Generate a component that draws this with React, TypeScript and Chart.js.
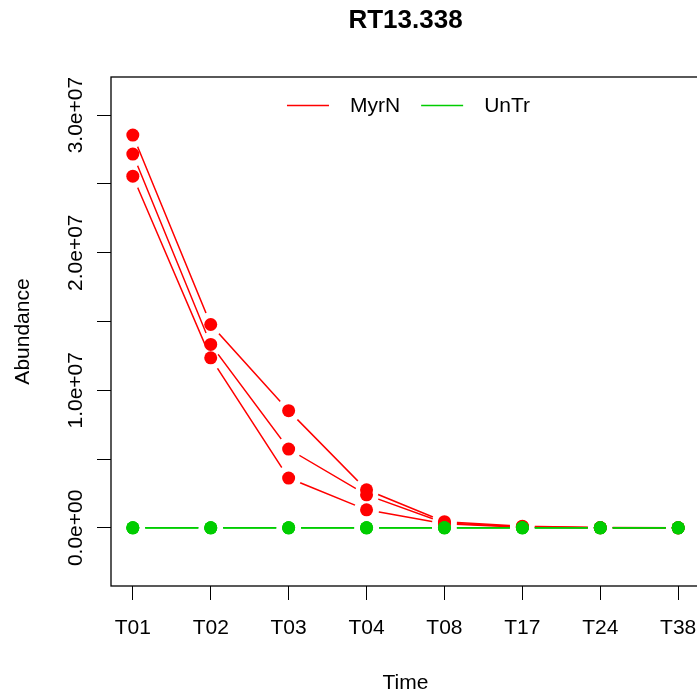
import React, { useEffect, useRef } from 'react';
import { Chart, registerables } from 'chart.js';

Chart.register(...registerables);

// ---- Data ----
const timePoints = ['T01', 'T02', 'T03', 'T04', 'T08', 'T17', 'T24', 'T38'];
const timeIndex = [1, 2, 3, 4, 5, 6, 7, 8];

const myrN1 = [2.855e7, 1.478e7, 0.852e7, 0.277e7, 0.045e7, 0.012e7, 0.002e7, 0];
const myrN2 = [2.717e7, 1.333e7, 0.573e7, 0.24e7, 0.035e7, 0.008e7, 0.001e7, 0];
const myrN3 = [2.556e7, 1.236e7, 0.362e7, 0.131e7, 0.03e7, 0.005e7, 0.0005e7, 0];

const untr1 = [0, 0, 0, 0, 0, 0, 0, 0];
const untr2 = [0, 0, 0, 0, 0, 0, 0, 0];
const untr3 = [0, 0, 0, 0, 0, 0, 0, 0];

const yTickValues = [0, 5e6, 1e7, 1.5e7, 2e7, 2.5e7, 3e7];
const yLabelValues = [0, 1e7, 2e7, 3e7];
const yTickLabels = ['0.0e+00', '1.0e+07', '2.0e+07', '3.0e+07'];

const legendLabels = ['MyrN', 'UnTr'];
const chartTitle = 'RT13.338';
const xTitle = 'Time';
const yTitle = 'Abundance';

const RED = '#FF0000';
const GREEN = '#00CD00';
const FONT = '"Liberation Sans", Arial, Helvetica, sans-serif';

const toXY = (vals: number[]) => vals.map((v, i) => ({ x: timeIndex[i], y: v }));

const lineDs = (vals: number[], color: string, order: number) => ({
  data: toXY(vals),
  borderColor: color,
  backgroundColor: color,
  borderWidth: 1.5,
  pointRadius: 0,
  showLine: true,
  fill: false,
  tension: 0,
  order,
  gapRadius: 12.5,
});

const pointDs = (vals: number[], color: string, order: number) => ({
  data: toXY(vals),
  borderColor: color,
  backgroundColor: color,
  showLine: false,
  pointRadius: 6.5,
  pointBackgroundColor: color,
  pointBorderWidth: 0,
  order,
});

const gapPlugin = {
  id: 'gapPlugin',
  beforeDatasetDraw(chart: any, args: any) {
    const ds = chart.data.datasets[args.index];
    if (!ds.gapRadius) return;
    const ctx = chart.ctx;
    ctx.save();
    ctx.beginPath();
    ctx.rect(0, 0, chart.width, chart.height);
    for (const el of args.meta.data) {
      ctx.moveTo(el.x + ds.gapRadius, el.y);
      ctx.arc(el.x, el.y, ds.gapRadius, 0, Math.PI * 2, true);
    }
    ctx.clip('evenodd');
  },
  afterDatasetDraw(chart: any, args: any) {
    const ds = chart.data.datasets[args.index];
    if (!ds.gapRadius) return;
    chart.ctx.restore();
  },
};

const decorPlugin = {
  id: 'decorPlugin',
  afterDraw(chart: any) {
    const { ctx, chartArea } = chart;
    const ys = chart.scales.y;
    // box
    ctx.save();
    ctx.strokeStyle = '#000';
    ctx.lineWidth = 1.3;
    ctx.strokeRect(chartArea.left, chartArea.top, chartArea.right - chartArea.left, chartArea.bottom - chartArea.top);
    ctx.restore();

    // rotated y tick labels
    ctx.save();
    ctx.font = `21px ${FONT}`;
    ctx.fillStyle = '#000';
    ctx.textAlign = 'center';
    ctx.textBaseline = 'alphabetic';
    yLabelValues.forEach((v, i) => {
      const py = ys.getPixelForValue(v);
      ctx.save();
      ctx.translate(chartArea.left - 29.5, py);
      ctx.rotate(-Math.PI / 2);
      ctx.fillText(yTickLabels[i], 0, 0);
      ctx.restore();
    });
    ctx.restore();

    // legend (top, inside plot)
    ctx.save();
    ctx.font = `21px ${FONT}`;
    ctx.textBaseline = 'middle';
    ctx.textAlign = 'left';
    const colors = [RED, GREEN];
    const lineLen = 42;
    const gap = 21;
    const widths = legendLabels.map((l) => ctx.measureText(l).width);
    let total = 0;
    widths.forEach((w, i) => {
      total += lineLen + gap + w + (i < widths.length - 1 ? gap : 0);
    });
    const cx = (chartArea.left + chartArea.right) / 2;
    let x = cx - total / 2 + 3;
    const ly = chartArea.top + 28.5;
    legendLabels.forEach((l, i) => {
      ctx.strokeStyle = colors[i];
      ctx.lineWidth = 1.5;
      ctx.beginPath();
      ctx.moveTo(x, ly);
      ctx.lineTo(x + lineLen, ly);
      ctx.stroke();
      x += lineLen + gap;
      ctx.fillStyle = '#000';
      ctx.fillText(l, x, ly + 1);
      x += widths[i] + gap;
    });
    ctx.restore();
  },
};

export default function App() {
  const canvasRef = useRef<HTMLCanvasElement | null>(null);

  useEffect(() => {
    if (!canvasRef.current) return;
    const chart = new Chart(canvasRef.current, {
      type: 'line',
      data: {
        datasets: [
          pointDs(untr1, GREEN, 0),
          pointDs(untr2, GREEN, 0),
          pointDs(untr3, GREEN, 0),
          pointDs(myrN1, RED, 1),
          pointDs(myrN2, RED, 1),
          pointDs(myrN3, RED, 1),
          lineDs(untr1, GREEN, 2),
          lineDs(untr2, GREEN, 2),
          lineDs(untr3, GREEN, 2),
          lineDs(myrN1, RED, 3),
          lineDs(myrN2, RED, 3),
          lineDs(myrN3, RED, 3),
        ] as any,
      },
      options: {
        responsive: false,
        animation: false,
        devicePixelRatio: 1,
        events: [],
        layout: { padding: { left: 0, right: 20, top: 0, bottom: 0 } },
        plugins: {
          legend: { display: false },
          tooltip: { enabled: false },
          title: {
            display: true,
            text: chartTitle,
            fullSize: false,
            color: '#000',
            font: { family: FONT, size: 26, weight: 'bold', lineHeight: 1 },
            padding: { top: 8, bottom: 43 },
          },
        },
        scales: {
          x: {
            type: 'linear',
            min: 0.72,
            max: 8.28,
            afterBuildTicks: (s: any) => {
              s.ticks = timeIndex.map((v) => ({ value: v }));
            },
            afterFit: (s: any) => {
              s.height = 108;
            },
            grid: { drawOnChartArea: false, drawTicks: true, tickLength: 14, color: '#000', lineWidth: 1 },
            border: { display: false },
            ticks: {
              padding: 16,
              color: '#000',
              autoSkip: false,
              maxRotation: 0,
              minRotation: 0,
              font: { family: FONT, size: 21 },
              callback: (v: any) => timePoints[Math.round(Number(v)) - 1] ?? '',
            },
            title: {
              display: true,
              text: xTitle,
              color: '#000',
              font: { family: FONT, size: 21, lineHeight: 1 },
              padding: { top: 0, bottom: 0 },
            },
          },
          y: {
            type: 'linear',
            min: -4.225e6,
            max: 3.277e7,
            afterBuildTicks: (s: any) => {
              s.ticks = yTickValues.map((v) => ({ value: v }));
            },
            afterFit: (s: any) => {
              s.width = 111;
            },
            grid: { drawOnChartArea: false, drawTicks: true, tickLength: 14, color: '#000', lineWidth: 1 },
            border: { display: false },
            ticks: { display: false },
            title: {
              display: true,
              text: yTitle,
              color: '#000',
              font: { family: FONT, size: 21, lineHeight: 1 },
              padding: { top: 12.5, bottom: 0 },
            },
          },
        },
      } as any,
      plugins: [gapPlugin, decorPlugin],
    });
    return () => chart.destroy();
  }, []);

  return (
    <div
      style={{
        position: 'absolute',
        left: 0,
        top: 0,
        width: 697,
        height: 694,
        overflow: 'hidden',
        background: '#fff',
      }}
    >
      <canvas ref={canvasRef} width={720} height={694} style={{ display: 'block', width: 720, height: 694 }} />
    </div>
  );
}
